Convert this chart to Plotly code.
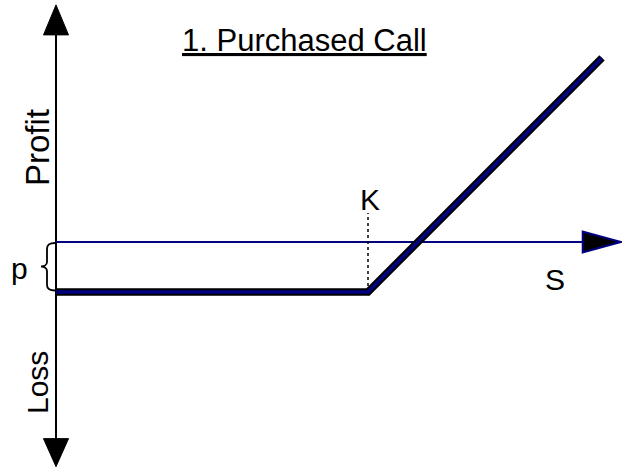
import plotly.graph_objects as go

# ---- data (payoff of a purchased call) ----
strike = 100          # K
premium = 16          # p
spot = [0, 100, 175]  # S values along the payoff line
profit = [-16, -16, 59]

# axis extents (data units)
s_axis_end = 181
profit_top = 76
loss_bottom = -72
k_marker_top = 9.3

# ---- drawing geometry (pixels per data unit, origin pixel) ----
W, H = 622, 471
PX = 3.12
X0, Y0 = 56, 242

def u(px):
    return px / PX

FONT = "Liberation Sans"
NAVY = "#000080"

fig = go.Figure()

# vertical profit/loss axis
fig.add_trace(go.Scatter(x=[0, 0], y=[loss_bottom + u(28), profit_top - u(30)],
                         mode="lines", line=dict(color="black", width=2),
                         hoverinfo="skip"))
# horizontal S axis
fig.add_trace(go.Scatter(x=[0, s_axis_end - u(36)], y=[0, 0],
                         mode="lines", line=dict(color=NAVY, width=2),
                         hoverinfo="skip"))
# dotted strike marker
fig.add_trace(go.Scatter(x=[strike, strike], y=[-premium, k_marker_top],
                         mode="lines", line=dict(color="black", width=1.5, dash="dot"),
                         hoverinfo="skip"))
# payoff line: black outline + navy core
fig.add_trace(go.Scatter(x=spot, y=profit, mode="lines",
                         line=dict(color="black", width=7.5), hoverinfo="skip"))
fig.add_trace(go.Scatter(x=spot, y=profit, mode="lines",
                         line=dict(color=NAVY, width=3.5), hoverinfo="skip"))

shapes = []
# up arrowhead
hl, hw = u(30), u(12.5)
shapes.append(dict(type="path", xref="x", yref="y",
                   path=f"M {-hw} {profit_top - hl} L {hw} {profit_top - hl} L 0 {profit_top} Z",
                   fillcolor="black", line=dict(color="black", width=1)))
# down arrowhead
hl2 = u(28)
shapes.append(dict(type="path", xref="x", yref="y",
                   path=f"M {-hw} {loss_bottom + hl2} L {hw} {loss_bottom + hl2} L 0 {loss_bottom} Z",
                   fillcolor="black", line=dict(color="black", width=1)))
# right arrowhead
hl3, hw3 = u(38), u(10.5)
shapes.append(dict(type="path", xref="x", yref="y",
                   path=f"M {s_axis_end - hl3} {-hw3} L {s_axis_end - hl3} {hw3} L {s_axis_end} 0 Z",
                   fillcolor="black", line=dict(color=NAVY, width=2)))
# brace for premium p
def pt(px, py):
    return f"{(px - X0) / PX} {(Y0 - py) / PX}"
brace = (f"M {pt(55, 243)} C {pt(50, 243)} {pt(47, 244)} {pt(47, 249)} "
         f"L {pt(47, 262)} C {pt(47, 265)} {pt(44, 266.5)} {pt(41, 266.5)} "
         f"C {pt(44, 266.5)} {pt(47, 268)} {pt(47, 271)} "
         f"L {pt(47, 285)} C {pt(47, 289)} {pt(50, 290.5)} {pt(55, 290.5)}")
shapes.append(dict(type="path", xref="x", yref="y", path=brace,
                   line=dict(color="black", width=1.8)))

annotations = [
    dict(x=u(304 - X0), y=u(Y0 - 40), text="<u>1. Purchased Call</u>", showarrow=False,
         font=dict(family=FONT, size=31, color="black"), xanchor="center", yanchor="middle"),
    dict(x=u(37 - X0), y=u(Y0 - 148), text="Profit", textangle=-90, showarrow=False,
         font=dict(family=FONT, size=33, color="black"), xanchor="center", yanchor="middle"),
    dict(x=u(37 - X0), y=u(Y0 - 383), text="Loss", textangle=-90, showarrow=False,
         font=dict(family=FONT, size=30, color="black"), xanchor="center", yanchor="middle"),
    dict(x=u(19 - X0), y=u(Y0 - 268), text="p", showarrow=False,
         font=dict(family=FONT, size=30, color="black"), xanchor="center", yanchor="middle"),
    dict(x=strike + u(2), y=u(Y0 - 199), text="K", showarrow=False,
         font=dict(family=FONT, size=30, color="black"), xanchor="center", yanchor="middle"),
    dict(x=u(555 - X0), y=u(Y0 - 279), text="S", showarrow=False,
         font=dict(family=FONT, size=30, color="black"), xanchor="center", yanchor="middle"),
]

fig.update_layout(
    width=W, height=H,
    margin=dict(l=0, r=0, t=0, b=0),
    paper_bgcolor="white", plot_bgcolor="white",
    showlegend=False,
    shapes=shapes, annotations=annotations,
    xaxis=dict(range=[-X0 / PX, (W - X0) / PX], visible=False, fixedrange=True),
    yaxis=dict(range=[-(H - Y0) / PX, Y0 / PX], visible=False, fixedrange=True),
)

fig.write_html("out.html", config={"displayModeBar": False},
               post_script="document.body.style.margin='0px';")
